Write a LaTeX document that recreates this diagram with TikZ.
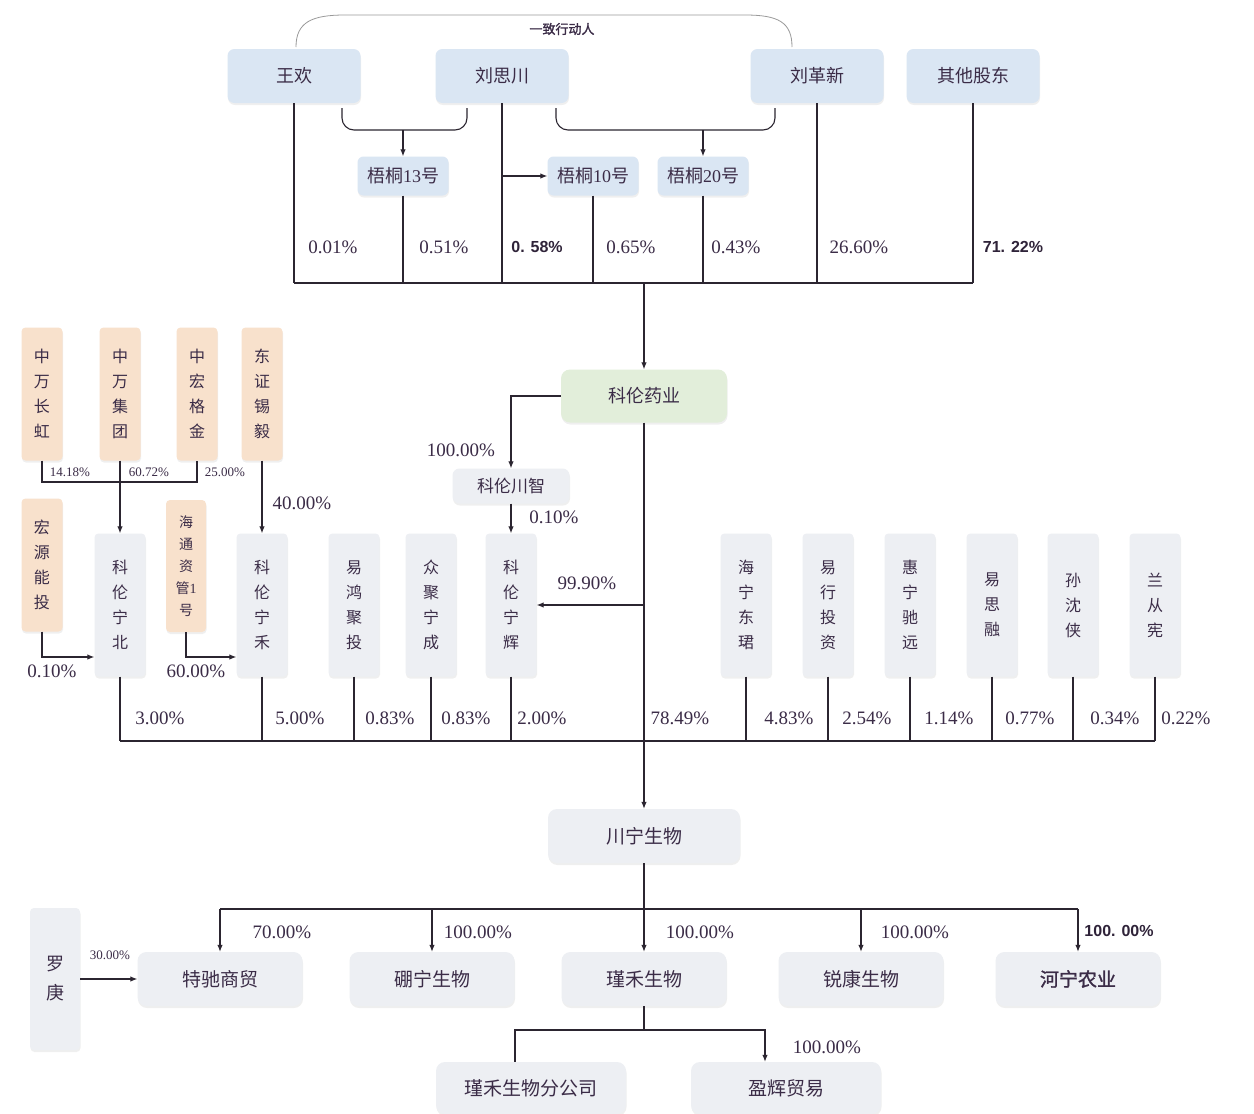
\documentclass[tikz,border=0pt]{standalone}
\usepackage{fontspec}
\setmainfont{Liberation Serif}
\newfontfamily\cjk{Noto Sans CJK SC}
\newfontfamily\cjkbf[FakeBold=1.5]{Noto Sans CJK SC}
\newfontfamily\numbf{Liberation Sans}
\usetikzlibrary{arrows.meta,calc,positioning,shadows}
\definecolor{inkPurple}{HTML}{3B2C47}
\definecolor{lineDark}{HTML}{2B2530}
\definecolor{boxBlue}{HTML}{DAE6F3}
\definecolor{boxGreen}{HTML}{E2EEDA}
\definecolor{boxOrange}{HTML}{F8E1CC}
\definecolor{boxGrey}{HTML}{EDEFF3}

\begin{document}
\begin{tikzpicture}[
  x=1pt, y=-1pt,
  base/.style={text=inkPurple, inner sep=0pt, drop shadow={opacity=0.12, shadow xshift=0.5pt, shadow yshift=-2pt}},
  holder/.style={base, fill=boxBlue, rounded corners=7pt, minimum width=133pt, minimum height=54pt, font=\cjk\fontsize{18}{22}\selectfont},
  fund/.style={base, fill=boxBlue, rounded corners=6pt, minimum width=91pt, minimum height=39pt, font=\cjk\fontsize{18}{22}\selectfont},
  parent/.style={base, fill=boxGreen, rounded corners=9pt, minimum width=166pt, minimum height=53pt, font=\cjk\fontsize{18}{22}\selectfont},
  widebox/.style={base, fill=boxGrey, rounded corners=7pt, minimum width=117pt, minimum height=35pt, font=\cjk\fontsize{17}{22}\selectfont},
  tallbox/.style={base, fill=boxGrey, rounded corners=4pt, minimum width=51pt, minimum height=143pt, align=center, font=\cjk\fontsize{16}{25}\selectfont},
  orgbox/.style={tallbox, fill=boxOrange, minimum width=41pt, minimum height=133pt},
  subbox/.style={base, fill=boxGrey, rounded corners=9pt, minimum width=165pt, minimum height=54pt, font=\cjk\fontsize{19}{22}\selectfont},
  pct/.style={text=inkPurple, inner sep=1pt, font=\rmfamily\fontsize{19}{22}\selectfont},
  pctbf/.style={text=inkPurple!80!black, inner sep=1pt, font=\numbf\bfseries\fontsize{16}{20}\selectfont},
  pctsm/.style={text=inkPurple, inner sep=1pt, font=\rmfamily\fontsize{13}{15}\selectfont},
  pact/.style={text=inkPurple, inner sep=1pt, font=\cjkbf\fontsize{13}{15}\selectfont},
  link/.style={draw=lineDark, line width=1.1pt},
  arcline/.style={draw=black!40, line width=0.8pt},
  arrow/.style={link, -{Latex[length=7pt, width=5.5pt]}}
]
\useasboundingbox[fill=white] (0,0) rectangle (1254,1114);

% shareholders of the parent
\node[holder] (wh) at (294,76) {王欢};
\node[holder] (lsc) at (502,76) {刘思川};
\node[holder] (lgx) at (817,76) {刘革新};
\node[holder] (qt) at (973,76) {其他股东};
\node[fund] (wt13) at (403,176) {梧桐{\rmfamily 13}号};
\node[fund] (wt10) at (593,176) {梧桐{\rmfamily 10}号};
\node[fund] (wt20) at (703,176) {梧桐{\rmfamily 20}号};

\coordinate (arcl) at (296,47);
\coordinate (arcr) at (792,47);
\draw[arcline] (arcl) .. controls (296,22) and (312,15) .. (345,15) -- (745,15) .. controls (778,15) and (792,22) .. (arcr);
\node[pact] (act) at (562,29) {一致行动人};

\coordinate (b1l) at (342,108);
\coordinate (b1r) at (467,108);
\coordinate (b1m) at (403,130);
\draw[link, rounded corners=12pt] (b1l) -- (b1l |- b1m) -- (b1r |- b1m) -- (b1r);
\draw[arrow] (b1m) -- (wt13.north);
\coordinate (b2l) at (556,108);
\coordinate (b2r) at (775,108);
\coordinate (b2m) at (703,130);
\draw[link, rounded corners=12pt] (b2l) -- (b2l |- b2m) -- (b2r |- b2m) -- (b2r);
\draw[arrow] (b2m) -- (wt20.north);
\draw[arrow] (lsc.south |- wt10.west) -- (wt10.west);

\coordinate (bus1) at (644,283);
\foreach \n in {wh,wt13,lsc,wt10,wt20,lgx,qt}
  \draw[link] (\n.south) -- (\n.south |- bus1);
\draw[link] (wh.south |- bus1) -- (qt.south |- bus1);

\foreach \nm/\x/\v in {p1/333/0.01\%, p2/444/0.51\%, p4/631/0.65\%, p5/736/0.43\%, p6/859/26.60\%}
  \node[pct] (\nm) at (\x,247) {\v};
\node[pctbf] (p3) at (537,247) {0. 58\%};
\node[pctbf] (p7) at (1013,247) {71. 22\%};

% parent and its holdings
\node[parent] (klyy) at (644,396) {科伦药业};
\draw[arrow] (bus1) -- (klyy.north);
\node[widebox] (klcz) at (511,486) {科伦川智};
\draw[arrow] (klyy.west) -| (klcz.north);
\node[pct] (p8) at (461,450) {100.00\%};

\foreach \nm/\x/\txt in {knb/120/{科\\伦\\宁\\北}, knh/262/{科\\伦\\宁\\禾}, yhjt/354/{易\\鸿\\聚\\投}, zjnc/431/{众\\聚\\宁\\成}, knhui/511/{科\\伦\\宁\\辉}, hndj/746/{海\\宁\\东\\珺}, yxtz/828/{易\\行\\投\\资}, hncy/910/{惠\\宁\\驰\\远}, ysr/992/{易\\思\\融}, ssx/1073/{孙\\沈\\侠}, lcx/1155/{兰\\从\\宪}}
  \node[tallbox] (\nm) at (\x,605) {\txt};

\draw[arrow] (klcz.south) -- (knhui.north);
\node[pct] (p9) at (554,517) {0.10\%};
\coordinate (mid) at (klyy.south |- knhui.east);
\draw[arrow] (mid) -- (knhui.east);
\node[pct] (p10) at (587,583) {99.90\%};

% upstream partners
\foreach \nm/\x/\txt in {zwch/42/{中\\万\\长\\虹}, zwjt/120/{中\\万\\集\\团}, zhgj/197/{中\\宏\\格\\金}, dzxy/262/{东\\证\\锡\\毅}}
  \node[orgbox] (\nm) at (\x,394) {\txt};
\node[orgbox] (hyny) at (42,565) {宏\\源\\能\\投};
\node[orgbox, minimum width=40pt, minimum height=132pt, font=\cjk\fontsize{14}{22}\selectfont] (htzg) at (186,566) {海\\通\\资\\管{\rmfamily 1}\\号};

\coordinate (bus2) at (120,482);
\draw[link] (zwch.south) |- (zhgj.south |- bus2) -- (zhgj.south);
\draw[arrow] (zwjt.south) -- (knb.north);
\draw[arrow] (dzxy.south) -- (knh.north);
\node[pctsm] (p11) at (70,472) {14.18\%};
\node[pctsm] (p12) at (149,472) {60.72\%};
\node[pctsm] (p13) at (225,472) {25.00\%};
\node[pct] (p14) at (302,503) {40.00\%};

\coordinate (lowy) at (0,657);
\draw[arrow] (hyny.south) |- (knb.west |- lowy);
\draw[arrow] (htzg.south) |- (knh.west |- lowy);
\node[pct] (p15) at (52,671) {0.10\%};
\node[pct] (p16) at (196,671) {60.00\%};

\coordinate (bus3) at (644,741);
\foreach \n in {knb,knh,yhjt,zjnc,knhui,hndj,yxtz,hncy,ysr,ssx,lcx}
  \draw[link] (\n.south) -- (\n.south |- bus3);
\draw[link] (knb.south |- bus3) -- (lcx.south |- bus3);

\foreach \nm/\x/\v in {p17/160/3.00\%, p18/300/5.00\%, p19/390/0.83\%, p20/466/0.83\%, p21/542/2.00\%, p22/680/78.49\%, p23/789/4.83\%, p24/867/2.54\%, p25/949/1.14\%, p26/1030/0.77\%, p27/1115/0.34\%, p28/1186/0.22\%}
  \node[pct] (\nm) at (\x,718) {\v};

% subsidiaries
\node[subbox, minimum width=192pt, minimum height=54pt] (cn) at (644,836) {川宁生物};
\draw[arrow] (klyy.south) -- (cn.north);

\foreach \nm/\x/\txt in {tc/220/特驰商贸, pn/432/硼宁生物, jh/644/瑾禾生物, rk/861/锐康生物}
  \node[subbox] (\nm) at (\x,979) {\txt};
\node[subbox, font=\cjkbf\fontsize{19}{22}\selectfont] (hn) at (1078,979) {河宁农业};

\coordinate (bus4) at (644,909);
\draw[link] (cn.south) -- (bus4);
\draw[link] (tc.north |- bus4) -- (hn.north |- bus4);
\foreach \n in {tc,pn,jh,rk,hn}
  \draw[arrow] (\n.north |- bus4) -- (\n.north);

\foreach \nm/\x/\v in {p29/282/70.00\%, p30/478/100.00\%, p31/700/100.00\%, p32/915/100.00\%}
  \node[pct] (\nm) at (\x,932) {\v};
\node[pctbf] (p33) at (1119,931) {100. 00\%};

\node[tallbox, minimum width=50pt, minimum height=142pt, font=\cjk\fontsize{18}{29}\selectfont] (lg) at (55,979) {罗\\庚};
\draw[arrow] (lg.east) -- (tc.west);
\node[pctsm] (p34) at (110,955) {30.00\%};

\node[subbox, minimum width=190pt, minimum height=52pt] (jhfgs) at (531,1088) {瑾禾生物分公司};
\node[subbox, minimum width=190pt, minimum height=52pt] (yh) at (786,1088) {盈辉贸易};
\coordinate (bus5) at (644,1030);
\coordinate (fgs) at ($(jhfgs.north)+(-16,0)$);
\coordinate (yht) at ($(yh.north)+(-21,0)$);
\draw[link] (jh.south) -- (bus5);
\draw[link] (fgs) |- (bus5);
\draw[arrow] (bus5) -| (yht);
\node[pct] (p35) at (827,1047) {100.00\%};
\end{tikzpicture}
\end{document}
